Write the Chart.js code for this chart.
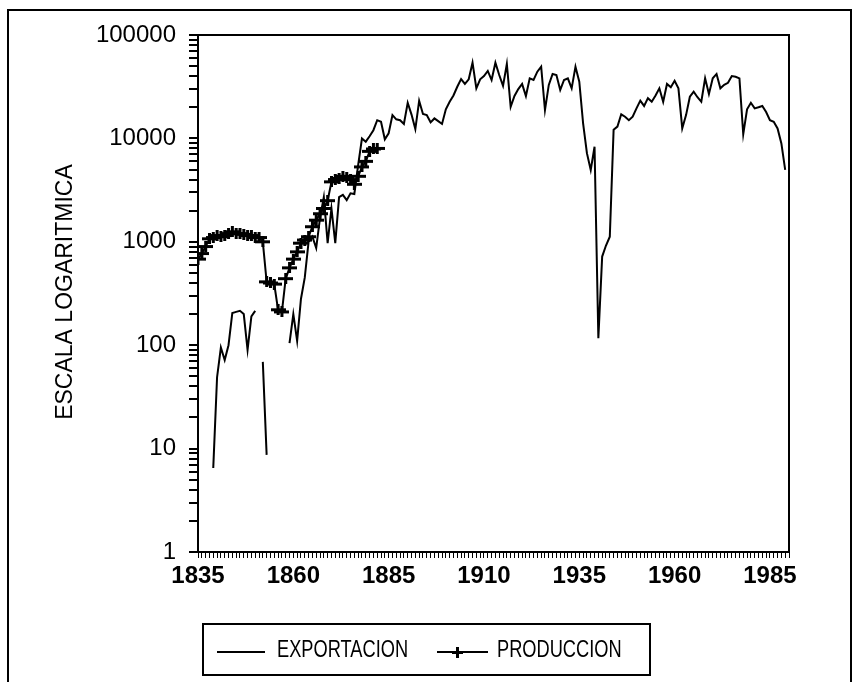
<!DOCTYPE html>
<html>
<head>
<meta charset="utf-8">
<script src="https://cdn.jsdelivr.net/npm/chart.js@4/dist/chart.umd.min.js"></script>
<style>html,body{margin:0;padding:0;background:#fff}</style>
</head>
<body>
<canvas id="chart" width="863" height="682"></canvas>
<script>
// exportacion, 1839..1989 (null = sin dato)
const exportFirstYear=1839;
const exportValues=[6.5,49,95,72,100,205,210,215,200,90,190,215,null,69,8.7,
  null,null,null,null,null,105,200,110,280,450,1000,1120,870,1700,2700,970,2100,970,2700,2840,2530,2940,2900,5500,10000,9300,10500,12000,15000,
  14500,9800,11200,16800,15300,15000,13800,22100,17000,12300,23100,17200,16800,14300,15600,14700,13800,
  19100,22600,26000,31600,37500,33600,37300,54000,30500,37300,40000,44900,36700,54000,41000,32200,52400,20200,25700,30000,33600,
  25700,38100,36700,44200,49400,18800,32900,42000,41000,29400,36700,38100,30500,49400,35400,14000,7200,4950,8300,117,
  720,920,1120,12100,13000,17100,16200,15000,16200,19500,23200,20600,24500,22600,26000,30500,22600,33600,31200,36100,30500,
  12500,16800,25300,28300,25000,22600,38100,26900,38100,42000,30500,33000,34500,40100,39500,38100,11000,19100,22100,19500,
  20000,20600,18000,15000,14500,12500,8950,4950];
// produccion, 1835..1882
const prodFirstYear=1835;
const prodValues=[680,770,900,1070,1100,1150,1120,1150,1200,1250,1200,1200,1180,1150,1150,1100,1100,1000,
  410,400,390,220,210,440,560,680,800,970,1040,1120,1400,1620,1870,2100,2500,3800,4000,4100,4300,4200,4000,3600,
  4300,5300,6000,7500,7900,8000];
const xLabelYears=[1835,1860,1885,1910,1935,1960,1985];
const yLabelValues=[1,10,100,1000,10000,100000];
const seriesNames=['EXPORTACION','PRODUCCION'];
const axisTitle='ESCALA LOGARITMICA';

const toPts=(y0,vals)=>vals.map((v,i)=>({x:y0+i,y:v}));

function plusMark(w,h,t){
  const c=document.createElement('canvas');c.width=w;c.height=h;
  const g=c.getContext('2d');g.fillStyle='#000';
  g.fillRect(0,Math.round((h-t)/2),w,t);g.fillRect(Math.round((w-t)/2),0,t,h);
  return c;
}
const plus=plusMark(15,11,3);
const FONT='"Liberation Sans", Arial, sans-serif';

const framePlugin={id:'frame',afterDraw(ch){
  const c=ch.ctx,a=ch.chartArea,ys=ch.scales.y;
  c.save();c.strokeStyle='#000';c.fillStyle='#000';c.lineWidth=2;
  c.strokeRect(8,10,843,700);
  c.beginPath();c.moveTo(a.left,a.top);c.lineTo(a.right,a.top);c.lineTo(a.right,a.bottom);c.stroke();
  // marcas del eje log (1..9 por decada)
  for(let e=0;e<=5;e++){
    for(let m=1;m<=9;m++){
      const v=m*Math.pow(10,e); if(v>100000) break;
      const py=ys.getPixelForValue(v);
      c.fillRect(Math.round(a.left)-9,Math.round(py)-1,9,2);
    }
  }
  // titulo del eje
  c.font='23px '+FONT;c.textAlign='center';c.textBaseline='middle';
  c.translate(66,292);c.rotate(-Math.PI/2);c.fillText(axisTitle,0,0);
  c.restore();
  // leyenda
  c.save();c.strokeStyle='#000';c.fillStyle='#000';c.lineWidth=2;
  c.strokeRect(203,624,447,51);
  c.beginPath();c.moveTo(217,652);c.lineTo(265,652);c.stroke();
  c.beginPath();c.moveTo(437,652);c.lineTo(488,652);c.stroke();
  c.drawImage(plusMark(11,11,3),457-5,652-5);
  c.font='24px '+FONT;c.textBaseline='middle';c.textAlign='left';
  c.save();c.translate(277,650);c.scale(0.76,1);c.fillText(seriesNames[0],0,0);c.restore();
  c.save();c.translate(497,650);c.scale(0.76,1);c.fillText(seriesNames[1],0,0);c.restore();
  c.restore();
}};

new Chart(document.getElementById('chart'),{
  type:'line',
  data:{datasets:[
    {label:seriesNames[0],data:toPts(exportFirstYear,exportValues),borderColor:'#000',borderWidth:2,pointRadius:0,spanGaps:false,tension:0},
    {label:seriesNames[1],data:toPts(prodFirstYear,prodValues),borderColor:'#000',backgroundColor:'#000',borderWidth:2,pointStyle:plus,pointRadius:6,tension:0}
  ]},
  options:{
    responsive:false,animation:false,devicePixelRatio:1,
    layout:{padding:{top:35,right:74,bottom:82,left:0}},
    plugins:{legend:{display:false},tooltip:{enabled:false}},
    scales:{
      x:{type:'linear',min:1835,max:1990,
        afterFit:s=>{s.height=48;},
        border:{display:true,color:'#000',width:2},
        grid:{drawOnChartArea:false,tickLength:6,tickColor:'#000',tickWidth:1},
        ticks:{stepSize:1,maxTicksLimit:500,autoSkip:false,maxRotation:0,padding:4,color:'#000',
          font:{family:FONT,size:24,weight:'bold'},
          callback:v=>xLabelYears.includes(v)?String(v):''}},
      y:{type:'logarithmic',min:1,max:100000,
        afterFit:s=>{s.width=198;},
        border:{display:true,color:'#000',width:2},
        grid:{display:false},
        ticks:{autoSkip:false,padding:14,color:'#000',font:{family:FONT,size:24},
          callback:v=>yLabelValues.includes(v)?String(v):''}}
    }
  },
  plugins:[framePlugin]
});
</script>
</body>
</html>
